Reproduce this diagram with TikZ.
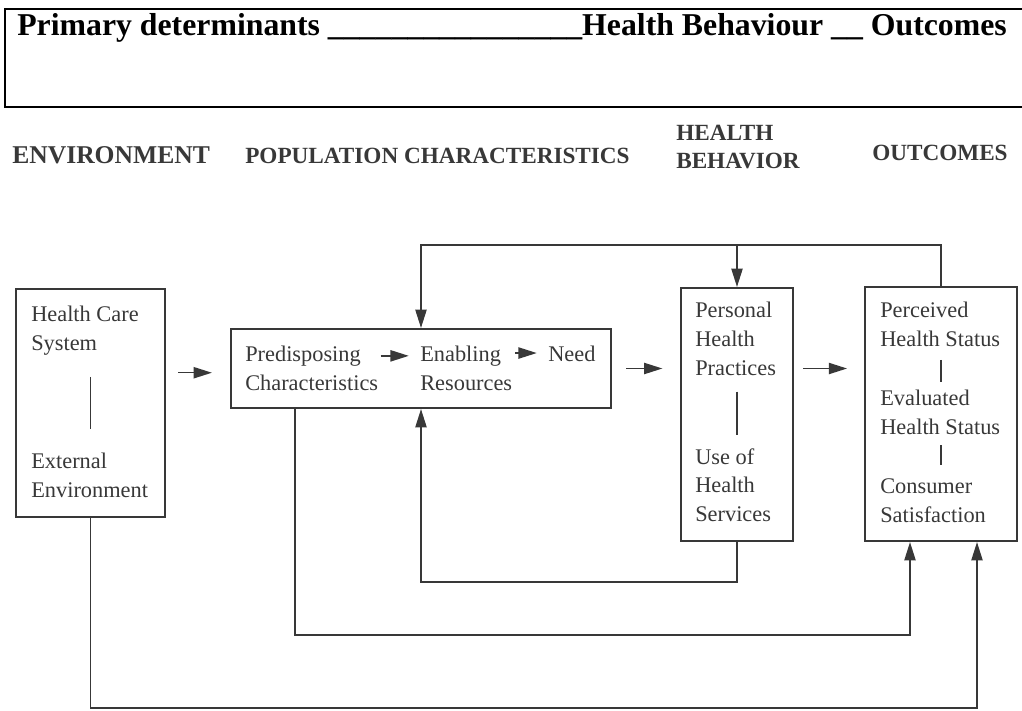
\documentclass[tikz,border=0pt]{standalone}
\usepackage{fontspec}
\setmainfont{Liberation Serif}
\usetikzlibrary{arrows.meta}
\definecolor{ink}{gray}{0.22}
\begin{document}
\begin{tikzpicture}[x=0.025cm,y=-0.025cm,
  txt/.style={anchor=north west,inner sep=0pt,align=left,text=ink,font=\fontsize{15.9}{20.6}\selectfont},
  head/.style={anchor=base west,inner sep=0pt,text=ink,font=\bfseries\fontsize{16.5}{19.9}\selectfont},
  box/.style={draw=ink,line width=1.5pt,inner sep=0pt},
  arr/.style={draw=ink,line width=1pt,-{Triangle[length=13pt,width=8pt]}},
  sep/.style={draw=ink,line width=1.2pt}]
\useasboundingbox (0,0) rectangle (1022,711);
\draw[line width=1.4pt] (1040,9) -- (5,9) -- (5,107) -- (1040,107);
\node[anchor=base west,inner sep=0pt,font=\bfseries\fontsize{22.6}{27}\selectfont] (title) at (17,35)
  {Primary determinants \_\_\_\_\_\_\_\_\_\_\_\_\_\_\_\_Health Behaviour \_\_ Outcomes};

\node[head,font=\bfseries\fontsize{18.2}{19.9}\selectfont] (henv) at (12,163) {ENVIRONMENT};
\node[head] (hpop) at (245,163) {POPULATION CHARACTERISTICS};
\node[head,anchor=north west,align=left] (hbeh) at (676,125) {HEALTH\\BEHAVIOR};
\node[head] (hout) at (872,160) {OUTCOMES};

\node[box,minimum width=3.725cm,minimum height=5.7cm] (env) at (90.5,403) {};
\node[box,minimum width=9.5cm,minimum height=1.975cm] (pop) at (421,368.5) {};
\node[box,minimum width=2.8cm,minimum height=6.325cm] (beh) at (737,414.5) {};
\node[box,minimum width=3.8cm,minimum height=6.35cm] (out) at (941,414) {};

\node[txt] (hcs) at (31,306) {Health Care\\System};
\node[txt] (ext) at (31,453) {External\\Environment};
\node[txt] (pre) at (245,346) {Predisposing\\Characteristics};
\node[txt] (ena) at (420,346) {Enabling\\Resources};
\node[txt] (need) at (548,346) {Need};
\node[txt] (php) at (695,302) {Personal\\Health\\Practices};
\node[txt] (uhs) at (695,448) {Use of\\Health\\Services};
\node[txt] (phs) at (880,302) {Perceived\\Health Status};
\node[txt] (ehs) at (880,390) {Evaluated\\Health Status};
\node[txt] (csat) at (880,478) {Consumer\\Satisfaction};

\draw[sep,shorten <=15pt,shorten >=17pt] (hcs.south -| env.center) -- (ext.north -| env.center);
\draw[sep,shorten <=11pt,shorten >=9pt] (php.south -| beh.center) -- (uhs.north -| beh.center);
\draw[sep,shorten <=9pt,shorten >=5.7pt] (phs.south -| out.center) -- (ehs.north -| out.center);
\draw[sep,shorten <=7pt,shorten >=9pt] (ehs.south -| out.center) -- (csat.north -| out.center);

\draw[arr,shorten <=1.5pt,shorten >=8pt] ([yshift=-7pt]pre.north east) -- ([yshift=-7pt]ena.north west);
\draw[arr,shorten <=2pt,shorten >=8pt] ([yshift=-5pt]ena.north east) -- ([yshift=-5pt]need.north west);

\draw[arr,shorten <=8.5pt,shorten >=12.8pt] ([yshift=-3pt]pop.west -| env.east) -- ([yshift=-3pt]pop.west);
\draw[arr,shorten <=10pt,shorten >=12.5pt] (pop.east) -- (pop.east -| beh.west);
\draw[arr,shorten <=6.4pt,shorten >=12pt] (pop.east -| beh.east) -- (pop.east -| out.west);

\coordinate (fb) at (938,245);
\draw[arr] (out.north) -- (out.north |- fb) -| (pop.north);
\draw[arr] (beh.north |- fb) -- (beh.north);
\draw[arr] (beh.south) -- ++(0,40) -| (pop.south);
\coordinate (lp) at (295,635);
\coordinate (rp) at (910,635);
\draw[arr] (pop.south -| lp) -- (lp) -- (rp) -- (out.south -| rp);
\coordinate (rb) at (977,708);
\draw[arr] (env.south) -- (env.south |- rb) -- (rb) -- (out.south -| rb);
\end{tikzpicture}
\end{document}
